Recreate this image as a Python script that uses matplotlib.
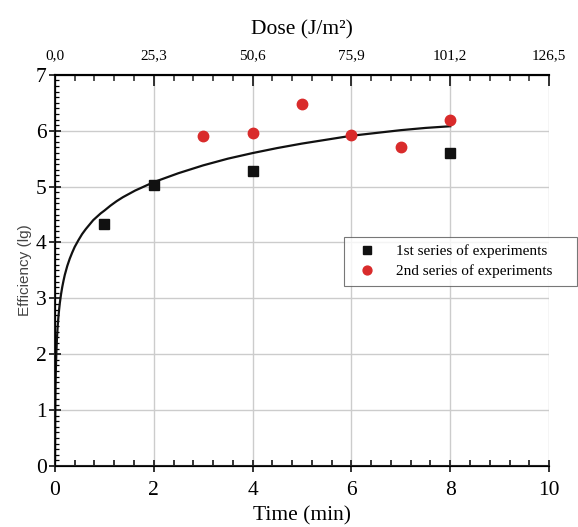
import numpy as np
import matplotlib
matplotlib.use('Agg')
import matplotlib.pyplot as plt
from matplotlib.ticker import MultipleLocator

# data
t_1st = [1, 2, 4, 8]
eff_1st = [4.33, 5.02, 5.28, 5.60]

t_2nd = [3, 4, 5, 6, 7, 8]
eff_2nd = [5.90, 5.96, 6.47, 5.93, 5.71, 6.20]

fit_t = [0.002, 0.003, 0.005, 0.0075, 0.01, 0.015, 0.02, 0.03, 0.04, 0.055, 0.07, 0.085,
         0.1, 0.125, 0.15, 0.175, 0.2, 0.25, 0.3, 0.35, 0.4, 0.475, 0.55, 0.625, 0.7, 0.775,
         0.85, 0.925, 1.0, 1.125, 1.25, 1.375, 1.5, 1.625, 1.75, 1.875, 2.0, 2.25, 2.5, 2.75,
         3.0, 3.25, 3.5, 3.75, 4.0, 4.5, 5.0, 5.5, 6.0, 6.5, 7.0, 7.5, 8.0]
fit_eff = [0.10, 0.39, 0.76, 1.05, 1.26, 1.55, 1.76, 2.05, 2.26, 2.49, 2.66, 2.80,
           2.92, 3.08, 3.21, 3.32, 3.42, 3.58, 3.71, 3.82, 3.92, 4.04, 4.15, 4.24, 4.32, 4.40,
           4.46, 4.52, 4.57, 4.66, 4.74, 4.81, 4.87, 4.93, 4.98, 5.03, 5.08, 5.16, 5.24, 5.31,
           5.38, 5.44, 5.50, 5.55, 5.60, 5.69, 5.77, 5.84, 5.91, 5.96, 6.01, 6.05, 6.08]

top_ticks = [0, 2, 4, 6, 8, 10]
top_labels = ['0,0', '25,3', '50,6', '75,9', '101,2', '126,5']

serif = 'Liberation Serif'

fig = plt.figure(figsize=(5.78, 5.27), dpi=100)
ax = fig.add_axes([0.095, 0.1157, 0.855, 0.7423])

ax.grid(True, color='#cccccc', linewidth=1.0, zorder=0)
ax.set_axisbelow(True)

ax.plot(fit_t, fit_eff, color='#111111', linewidth=1.6, zorder=3, solid_joinstyle='round')
ax.plot(t_1st, eff_1st, 's', color='#111111', markersize=6.5, zorder=4,
        label='1st series of experiments')
ax.plot(t_2nd, eff_2nd, 'o', color='#d92b2b', markersize=7.5, zorder=4,
        label='2nd series of experiments')

ax.set_xlim(0, 10)
ax.set_ylim(0, 7)
ax.xaxis.set_major_locator(MultipleLocator(2))
ax.xaxis.set_minor_locator(MultipleLocator(0.4))
ax.yaxis.set_major_locator(MultipleLocator(1))
ax.yaxis.set_minor_locator(MultipleLocator(0.1))

for s in ['left', 'bottom', 'top']:
    ax.spines[s].set_linewidth(1.5)
    ax.spines[s].set_color('#222222')
ax.spines['right'].set_visible(False)

ax.tick_params(axis='both', which='major', direction='inout', length=8, width=1.3,
               labelsize=15.5, color='#222222', pad=2)
ax.tick_params(axis='x', which='major', pad=7)
ax.tick_params(axis='x', which='minor', direction='in', length=4, width=1.1)
ax.tick_params(axis='y', which='minor', direction='in', length=3, width=0.9)
for lab in ax.get_xticklabels() + ax.get_yticklabels():
    lab.set_family(serif)

ax.set_xlabel('Time (min)', fontsize=15.5, family=serif, labelpad=4)
ax.set_ylabel('Efficiency (lg)', fontsize=11, family='Liberation Sans', color='#444444', labelpad=3)

top = ax.twiny()
top.set_xlim(0, 10)
top.set_xticks(top_ticks)
top.set_xticklabels(top_labels, family=serif, fontsize=11)
top.xaxis.set_minor_locator(MultipleLocator(0.4))
top.tick_params(axis='x', which='major', direction='in', length=8, width=1.3, color='#222222', pad=9)
top.tick_params(axis='x', which='minor', direction='in', length=4, width=1.1, color='#222222')
top.spines['right'].set_visible(False)
top.spines['top'].set_linewidth(1.5)
top.set_xlabel('Dose (J/m²)', fontsize=15.5, family=serif, labelpad=11)

leg_h = 49 / 527
leg = ax.legend(loc='upper left', mode='expand',
                bbox_to_anchor=(344 / 578, 1 - 237 / 527 - leg_h, 233 / 578, leg_h),
                bbox_transform=fig.transFigure, borderaxespad=0,
                prop={'family': serif, 'size': 11},
                frameon=True, fancybox=False, borderpad=0.5, handletextpad=0.9,
                labelspacing=0.4, markerscale=0.85)
leg.get_frame().set_edgecolor('#555555')
leg.get_frame().set_linewidth(0.8)
leg.set_zorder(6)

fig.savefig('out.png', dpi=100)
